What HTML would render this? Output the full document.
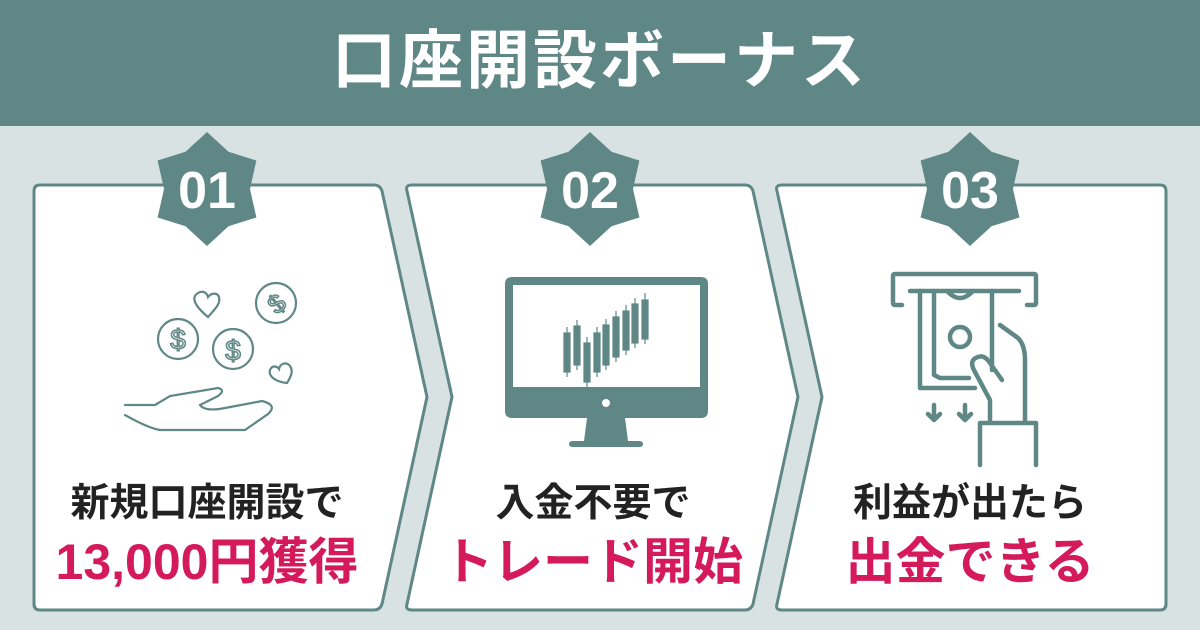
<!DOCTYPE html>
<html><head><meta charset="utf-8"><style>
html,body{margin:0;padding:0}
body{width:1200px;height:630px;background:#d9e2e3;position:relative;overflow:hidden;font-family:"Liberation Sans","Noto Sans CJK JP",sans-serif}
.hdr{position:absolute;left:0;top:0;width:1200px;height:126px;background:#5f8786;color:#fff;font-size:64px;font-weight:bold;text-align:center;line-height:122px;letter-spacing:3px}
.t{position:absolute;text-align:center;font-weight:bold;width:346px;white-space:nowrap}
.b{font-size:39px;color:#222}
.r{font-size:50px;color:#d41a5b}
</style></head><body>
<div class="hdr">口座開設ボーナス</div>
<svg width="1200" height="630" style="position:absolute;left:0;top:0">
<g fill="#fff" stroke="#5f8786" stroke-width="3" stroke-linejoin="round">
<path d="M40,185 H374 Q380,185 382,191 L427,397 L382,604 Q380,610 374,610 H40 Q34,610 34,604 V191 Q34,185 40,185 Z"/>
<path d="M412,185 H745 Q751,185 753,191 L798,397 L753,604 Q751,610 745,610 H412 Q405,610 407,604 L452,397 L407,191 Q405,185 412,185 Z"/>
<path d="M782,185 H1160 Q1166,185 1166,191 V604 Q1166,610 1160,610 H782 Q775,610 777,604 L822,397 L777,191 Q775,185 782,185 Z"/>
</g>
<g fill="#5f8786">
<polygon points="0,-57 21.5,-37.2 49.4,-28.5 43,0 49.4,28.5 21.5,37.2 0,57 -21.5,37.2 -49.4,28.5 -43,0 -49.4,-28.5 -21.5,-37.2" transform="translate(207,189)"/>
<polygon points="0,-57 21.5,-37.2 49.4,-28.5 43,0 49.4,28.5 21.5,37.2 0,57 -21.5,37.2 -49.4,28.5 -43,0 -49.4,-28.5 -21.5,-37.2" transform="translate(590,189)"/>
<polygon points="0,-57 21.5,-37.2 49.4,-28.5 43,0 49.4,28.5 21.5,37.2 0,57 -21.5,37.2 -49.4,28.5 -43,0 -49.4,-28.5 -21.5,-37.2" transform="translate(970,189)"/>
</g>
<g fill="#fff" font-family="Liberation Sans" font-weight="bold" font-size="52" text-anchor="middle">
<text x="207" y="208">01</text><text x="590" y="208">02</text><text x="970" y="208">03</text>
</g>
<!-- icon 1 -->
<g fill="none" stroke="#5f8786" stroke-width="2.2" stroke-linecap="round">
<circle cx="178" cy="339" r="20"/><text x="178" y="349" font-size="28" fill="none" stroke="#5f8786" stroke-width="1.5" text-anchor="middle" font-family="Liberation Sans">$</text>
<circle cx="233" cy="349" r="20"/><text x="233" y="360" font-size="28" fill="none" stroke="#5f8786" stroke-width="1.5" text-anchor="middle" font-family="Liberation Sans">$</text>
<circle cx="276" cy="303" r="20"/><text x="276" y="313" font-size="26" fill="none" stroke="#5f8786" stroke-width="1.5" text-anchor="middle" font-family="Liberation Sans" transform="rotate(-40 276 303)">$</text>
<path d="M208,317 C196,307 190,298 198,293 C203,290 207,293 208,297 C211,293 217,292 219,297 C221,304 214,310 208,317 Z"/>
<path d="M287,383 C277,382 268,377 270,370 C272,365 277,366 279,369 C280,364 286,361 290,366 C294,372 290,378 287,383 Z"/>
<path d="M125,405 H155 L170,396 L218,388 Q226,390 218,396 L200,405 Q205,412 225,408 L262,401 Q278,405 268,414 L245,430 L160,430 Q148,428 125,415"/>
</g>
<!-- icon 2 monitor -->
<g fill="#5f8786">
<path d="M512,277 H701 Q708,277 708,284 V411 Q708,418 701,418 H512 Q505,418 505,411 V284 Q505,277 512,277 Z M513,285 V387 H700 V285 Z" fill-rule="evenodd"/>
<circle cx="606" cy="403" r="4" fill="#fff"/>
<path d="M587,418 H625 L628,441 H639 Q643,441 643,444 Q643,447 639,447 H573 Q569,447 569,444 Q569,441 573,441 H584 Z"/>
<g stroke="#5f8786" stroke-width="1.2">
<rect x="564" y="333" width="6" height="39"/><line x1="567" y1="327" x2="567" y2="377"/>
<rect x="574" y="326" width="6" height="39"/><line x1="577" y1="320" x2="577" y2="370"/>
<rect x="584" y="343" width="6" height="39"/><line x1="587" y1="337" x2="587" y2="387"/>
<rect x="594" y="333" width="6" height="39"/><line x1="597" y1="327" x2="597" y2="377"/>
<rect x="603" y="325" width="6" height="40"/><line x1="606" y1="319" x2="606" y2="370"/>
<rect x="613" y="317" width="6" height="40"/><line x1="616" y1="311" x2="616" y2="362"/>
<rect x="623" y="311" width="6" height="39"/><line x1="626" y1="305" x2="626" y2="355"/>
<rect x="632" y="304" width="6" height="39"/><line x1="635" y1="298" x2="635" y2="348"/>
<rect x="642" y="300" width="6" height="39"/><line x1="645" y1="293" x2="645" y2="344"/>
</g></g>
<!-- icon 3 atm -->
<g fill="none" stroke="#5f8786" stroke-width="4.5" stroke-linejoin="round" stroke-linecap="round">
<path d="M902,305 H895 Q893,305 893,303 V276 Q893,274 895,274 H1034 Q1036,274 1036,276 V303 Q1036,305 1034,305 H1027"/>
<line x1="910" y1="291" x2="1019" y2="291"/>
<path d="M920,291 V388 H975"/>
<path d="M934,291 V375 L940,378 H969"/>
<path d="M947,291 Q960,305 973,291"/>
<circle cx="960" cy="337" r="10"/>
<path d="M992,291 V370"/>
<path d="M1000,325 L1018,338 Q1025,345 1025,360 V420"/>
<path d="M990,420 V400 L975,372 Q968,360 978,357 Q985,354 992,366 L1002,380"/>
<path d="M980,465 V423 H1036 V465"/>
<path d="M934,405 V420 M928,414 L934,420 L940,414 M965,405 V420 M959,414 L965,420 L971,414"/>
</g>
</svg>
<div class="t b" style="left:34px;top:472px">新規口座開設で</div>
<div class="t r" style="left:34px;top:522px">13,000円獲得</div>
<div class="t b" style="left:420px;top:472px">入金不要で</div>
<div class="t r" style="left:420px;top:522px">トレード開始</div>
<div class="t b" style="left:797px;top:472px">利益が出たら</div>
<div class="t r" style="left:797px;top:522px">出金できる</div>
</body></html>
